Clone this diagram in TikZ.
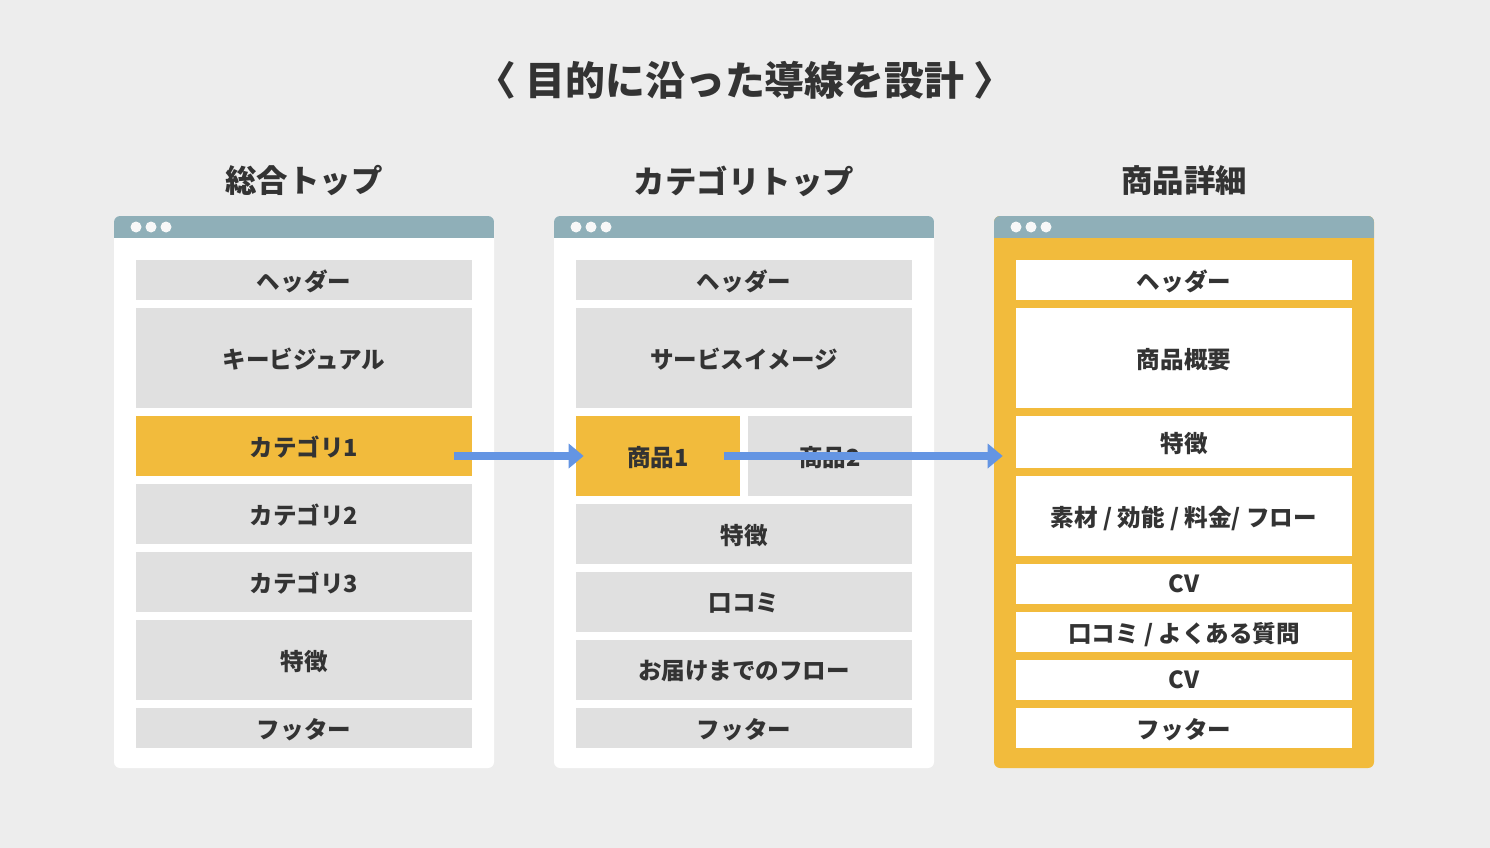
\documentclass[tikz,border=0pt]{standalone}
\usepackage{fontspec}
\setmainfont{Noto Sans CJK JP}
\usetikzlibrary{arrows.meta}
\definecolor{bg}{HTML}{EDEDED}
\definecolor{cellgray}{HTML}{E0E0E0}
\definecolor{accent}{HTML}{F2BB3C}
\definecolor{barblue}{HTML}{8FAFB8}
\definecolor{flow}{HTML}{6495E3}
\definecolor{ink}{HTML}{333333}
\begin{document}
\begin{tikzpicture}[x=0.02cm, y=-0.02cm,
	cell/.style={text=ink, inner sep=0pt, text depth=0pt, minimum width=6.72cm, font=\bfseries\fontsize{13.4}{16}\selectfont},
	pagehead/.style={text=ink, font=\bfseries\fontsize{17.9}{21}\selectfont},
	flowarrow/.style={flow, line width=0.16cm, -{Triangle[width=0.48cm, length=0.3cm]}}]
	\useasboundingbox[fill=bg] (0,0) rectangle (1490,848);
	
	%title
	\node[text=ink, font=\bfseries\fontsize{22.7}{26}\selectfont] (title) at (745,80) {〈 目的に沿った導線を設計 〉};
	\node[pagehead] (headtop) at (304,181) {総合トップ};
	\node[pagehead] (headcat) at (744,181) {カテゴリトップ};
	\node[pagehead] (headdtl) at (1184,181) {商品詳細};
	
	%browser frames
	\foreach \x/\c in {114/white, 554/white, 994/accent}{
		\fill[\c, rounded corners=0.12cm] (\x,216) rectangle ++(380,552);
		\begin{scope}
			\clip[rounded corners=0.12cm] (\x,216) rectangle ++(380,552);
			\fill[barblue] (\x,216) rectangle ++(380,22);
		\end{scope}
		\foreach \d in {22, 37, 52}
			\fill[white!60!bg] (\x+\d,227) circle[radius=0.11cm];
	}
	
	%general top
	\foreach \n/\y/\h/\c/\t in {1/280/0.8/cellgray/ヘッダー, 2/358/2/cellgray/キービジュアル, 3/446/1.2/accent/カテゴリ1, 4/514/1.2/cellgray/カテゴリ2, 5/582/1.2/cellgray/カテゴリ3, 6/660/1.6/cellgray/特徴, 7/728/0.8/cellgray/フッター}{
		\node[cell, fill=\c, minimum height=\h cm] (top\n) at (304,\y) {\t};
	}
	
	%category top
	\foreach \n/\y/\h/\t in {1/280/0.8/ヘッダー, 2/358/2/サービスイメージ, 3/534/1.2/特徴, 4/602/1.2/口コミ, 5/670/1.2/お届けまでのフロー, 6/728/0.8/フッター}{
		\node[cell, fill=cellgray, minimum height=\h cm] (cat\n) at (744,\y) {\t};
	}
	\node[cell, fill=accent, minimum width=3.28cm, minimum height=1.6cm] (item1) at (658,456) {商品1};
	\node[cell, fill=cellgray, minimum width=3.28cm, minimum height=1.6cm] (item2) at (830,456) {商品2};
	
	%product detail
	\foreach \n/\y/\h/\t in {1/280/0.8/ヘッダー, 2/358/2/商品概要, 3/442/1.04/特徴, 4/516/1.6/{素材 / 効能 / 料金/ フロー}, 5/584/0.8/CV, 6/632/0.8/{口コミ / よくある質問}, 7/680/0.8/CV, 8/728/0.8/フッター}{
		\node[cell, fill=white, minimum height=\h cm] (dtl\n) at (1184,\y) {\t};
	}
	
	%flow
	\draw[flowarrow] ([xshift=-0.36cm]top3.east |- item1) -- ([xshift=0.16cm]item1.west);
	\draw[flowarrow] ([xshift=-0.32cm]item1.east) -- ([xshift=-0.26cm]dtl3.west |- item1);
\end{tikzpicture}
\end{document}
